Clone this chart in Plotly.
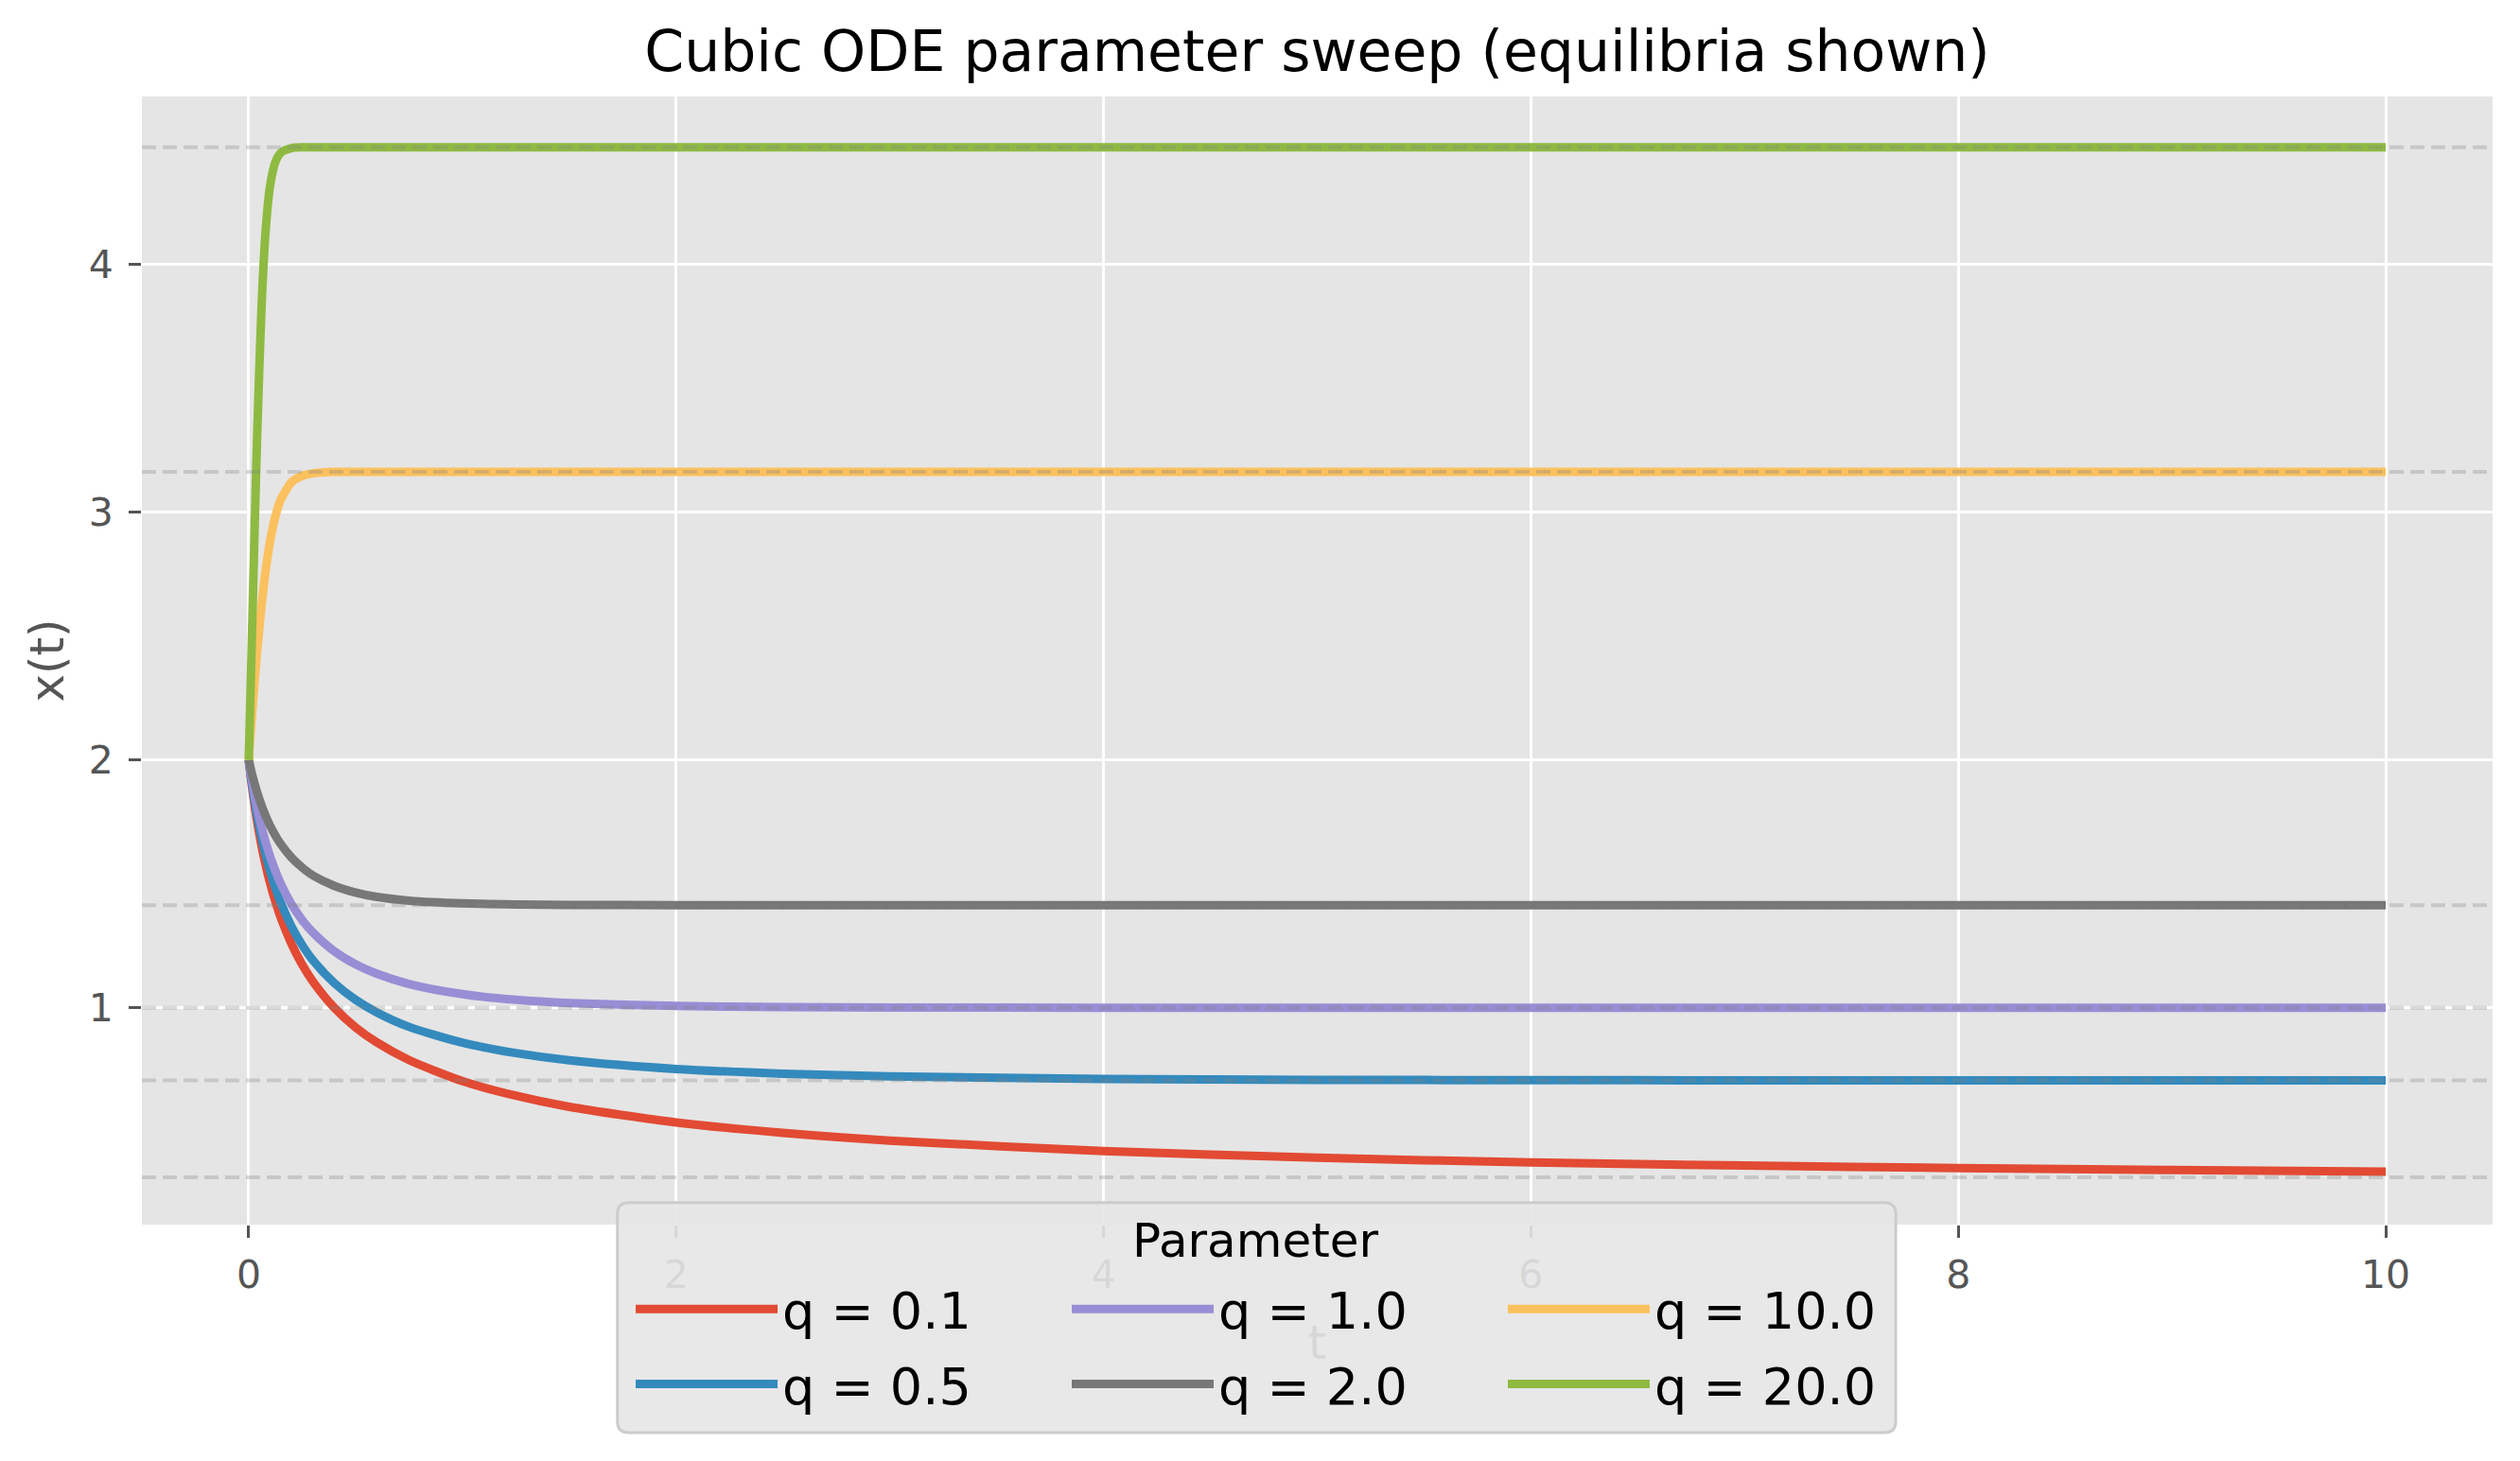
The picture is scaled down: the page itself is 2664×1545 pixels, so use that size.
import plotly.graph_objects as go

# values (x(t) for each parameter q)
t = [0, 0.01, 0.02, 0.03, 0.04, 0.06, 0.08, 0.1, 0.125, 0.15, 0.2, 0.25, 0.3, 0.4, 0.5,
     0.6, 0.75, 1.0, 1.25, 1.5, 2.0, 2.5, 3.0, 4.0, 5.0, 6.0, 7.0, 8.0, 9.0, 10.0]

x_q01 = [2.0, 1.926, 1.86, 1.801, 1.747, 1.652, 1.572, 1.502, 1.428, 1.363, 1.258, 1.174, 1.106, 1.0, 0.921,
         0.86, 0.789, 0.704, 0.645, 0.6, 0.537, 0.495, 0.464, 0.422, 0.395, 0.376, 0.363, 0.353, 0.345, 0.339]
x_q05 = [2.0, 1.934, 1.875, 1.821, 1.772, 1.686, 1.613, 1.55, 1.482, 1.423, 1.328, 1.253, 1.192, 1.1, 1.032,
         0.981, 0.923, 0.859, 0.817, 0.788, 0.753, 0.734, 0.723, 0.713, 0.709, 0.708, 0.707, 0.707, 0.707, 0.707]
x_q1 = [2.0, 1.943, 1.892, 1.845, 1.803, 1.728, 1.665, 1.61, 1.551, 1.5, 1.418, 1.354, 1.304, 1.228, 1.175,
        1.137, 1.096, 1.055, 1.032, 1.019, 1.007, 1.003, 1.001, 1.0, 1.0, 1.0, 1.0, 1.0, 1.0, 1.0]
x_q2 = [2.0, 1.962, 1.927, 1.896, 1.867, 1.816, 1.772, 1.734, 1.694, 1.66, 1.606, 1.566, 1.534, 1.492, 1.465,
        1.447, 1.432, 1.421, 1.417, 1.415, 1.414, 1.414, 1.414, 1.414, 1.414, 1.414, 1.414, 1.414, 1.414, 1.414]
x_q10 = [2.0, 2.119, 2.233, 2.342, 2.444, 2.624, 2.77, 2.883, 2.984, 3.05, 3.12, 3.146, 3.156, 3.162, 3.162,
         3.162, 3.162, 3.162, 3.162, 3.162, 3.162, 3.162, 3.162, 3.162, 3.162, 3.162, 3.162, 3.162, 3.162, 3.162]
x_q20 = [2.0, 2.331, 2.674, 3.012, 3.326, 3.831, 4.147, 4.317, 4.413, 4.45, 4.469, 4.472, 4.472, 4.472, 4.472,
         4.472, 4.472, 4.472, 4.472, 4.472, 4.472, 4.472, 4.472, 4.472, 4.472, 4.472, 4.472, 4.472, 4.472, 4.472]

labels = ["q = 0.1", "q = 0.5", "q = 1.0", "q = 2.0", "q = 10.0", "q = 20.0"]
colors = ["#E24A33", "#348ABD", "#988ED5", "#777777", "#FBC15E", "#8EBA42"]
equilibria = [0.316, 0.707, 1.0, 1.414, 3.162, 4.472]

series = [x_q01, x_q05, x_q1, x_q2, x_q10, x_q20]
legend_ids = ["legend", "legend", "legend2", "legend2", "legend3", "legend3"]

FONT = "DejaVu Sans"
GREY = "#555555"

fig = go.Figure()
for name, col, ys, lg in zip(labels, colors, series, legend_ids):
    fig.add_trace(go.Scatter(x=t, y=ys, mode="lines", name=name, legend=lg,
                             legendgroup=name,
                             line=dict(color=col, width=9, shape="spline", smoothing=0.7)))

# dashed equilibrium lines across the whole axes
for v in equilibria:
    fig.add_hline(y=v, line=dict(color="rgba(128,128,128,0.3)", width=4, dash="15px,7px"),
                  layer="above")

# legend frame (three legends share one box)
x0, x1, y0, y1 = 0.2023, 0.7461, -0.1844, 0.0195
rx, ry = 12 / 2485, 12 / 1193
path = (f"M {x0+rx},{y1} L {x1-rx},{y1} Q {x1},{y1} {x1},{y1-ry} L {x1},{y0+ry} "
        f"Q {x1},{y0} {x1-rx},{y0} L {x0+rx},{y0} Q {x0},{y0} {x0},{y0+ry} "
        f"L {x0},{y1-ry} Q {x0},{y1} {x0+rx},{y1} Z")
fig.add_shape(type="path", path=path, xref="paper", yref="paper", layer="above",
              fillcolor="rgba(229,229,229,0.9)", line=dict(color="#cccccc", width=3))

fig.add_annotation(text="Parameter", xref="paper", yref="paper", x=0.474, y=-0.014,
                   xanchor="center", yanchor="middle", showarrow=False,
                   font=dict(family=FONT, size=50, color="black"))

leg = dict(orientation="v", xanchor="left", yanchor="top", bgcolor="rgba(0,0,0,0)",
           borderwidth=0, font=dict(family=FONT, size=54, color="black"),
           itemwidth=150, tracegroupgap=6, y=-0.040)

# the page body adds an 8px margin, so the figure is 16px smaller than the window
fig.update_layout(
    width=2656, height=1537,
    margin=dict(l=142, r=29, t=94, b=250),
    paper_bgcolor="white", plot_bgcolor="#E5E5E5",
    font=dict(family=FONT, color=GREY),
    title=dict(text="Cubic ODE parameter sweep (equilibria shown)", x=0.5, xref="paper",
               y=1 - 45.5 / 1537, yref="container", yanchor="middle", xanchor="center",
               font=dict(family=FONT, size=60, color="black")),
    legend=dict(leg, x=(667 - 150) / 2485),
    legend2=dict(leg, x=(1128 - 150) / 2485),
    legend3=dict(leg, x=(1589 - 150) / 2485),
)

fig.update_xaxes(range=[-0.5, 10.5], tick0=0, dtick=2, showgrid=True, gridcolor="white",
                 gridwidth=3, zeroline=False, showline=False, ticks="outside", ticklen=13,
                 tickwidth=3, tickcolor=GREY, ticklabelstandoff=4,
                 tickfont=dict(family=FONT, size=41, color=GREY),
                 title=dict(text="t", standoff=30, font=dict(family=FONT, size=50, color="#d7d7d7")))
fig.update_yaxes(range=[0.125, 4.677], tick0=0, dtick=1, showgrid=True, gridcolor="white",
                 gridwidth=3, zeroline=False, showline=False, ticks="outside", ticklen=13,
                 tickwidth=3, tickcolor=GREY, ticklabelstandoff=8,
                 tickfont=dict(family=FONT, size=41, color=GREY),
                 title=dict(text="x(t)", standoff=10, font=dict(family=FONT, size=50, color=GREY)))

fig.write_html("out.html")
